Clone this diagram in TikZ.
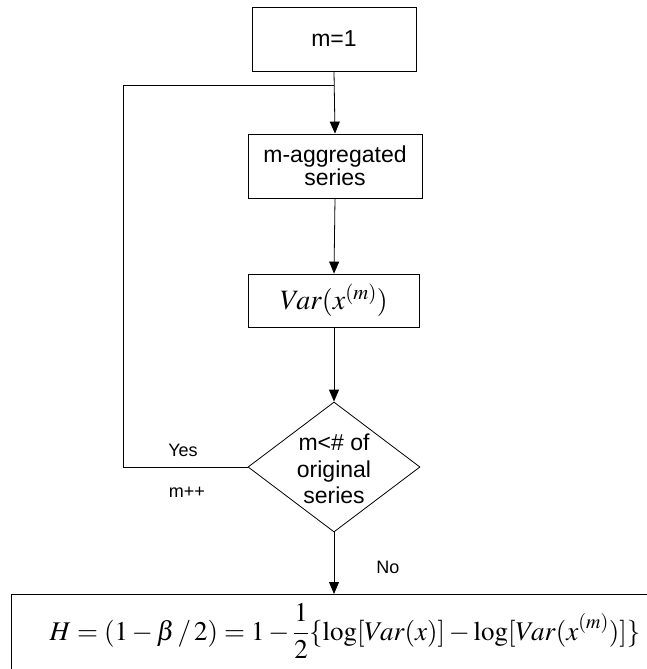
\documentclass[tikz,border=0pt]{standalone}
\usepackage{mathptmx}
\usepackage[no-math]{fontspec}
\setmainfont{Liberation Sans}
\usetikzlibrary{arrows.meta,shapes.geometric}
\tikzset{
  boxnode/.style={draw, line width=0.8pt, rectangle, inner sep=0pt, align=center, font=\fontsize{23}{24}\selectfont},
  decnode/.style={draw, line width=0.8pt, diamond, inner sep=0pt, minimum width=172pt, minimum height=130pt, aspect=1.32},
  flow/.style={line width=0.8pt, -{Triangle[length=12pt,width=10pt]}},
  plain/.style={line width=0.8pt},
  lbl/.style={font=\fontsize{18}{20}\selectfont, inner sep=0pt},
}
\begin{document}
\begin{tikzpicture}[x=1pt,y=-1pt]
\useasboundingbox (0,0) rectangle (647,669);
\clip (0,0) rectangle (647,669);
\node[boxnode, minimum width=164pt, minimum height=64pt] (m1) at (334,39) {m=1};
\node[boxnode, minimum width=174pt, minimum height=64pt] (agg) at (335,166) {m-aggregated\\[-1pt]series};
\node[boxnode, minimum width=171pt, minimum height=53pt, font=\fontsize{28}{30}\selectfont] (var) at (334,300.5) {$Var(x^{(m)})$};
\node[decnode] (dec) at (334,467) {};
\node[font=\fontsize{23}{26.5}\selectfont, align=center, inner sep=0pt] (dect) at (334,469) {m<\# of\\original\\series};
\node[draw, line width=0.8pt, rectangle, minimum width=700pt, minimum height=120pt, anchor=north west, inner sep=0pt] (hbox) at (11,594) {};
\node[anchor=base, inner sep=0pt, font=\fontsize{27}{30}\selectfont] (formula) at (345,640)
  {$\displaystyle H=(1-\beta\,/\,2)=1-\frac{1}{2}\{\log[Var(x)]-\log[Var(x^{(m)})]\}$};
\coordinate (join) at (334,85);
\coordinate (lb) at (123,467);
\coordinate (lt) at (123,85);
\node[lbl] (yes) at (183,450) {Yes};
\node[lbl] (mpp) at (187,492) {m++};
\node[lbl] (no) at (388,567) {No};
\draw[flow] (m1.south) -- (agg.north);
\draw[flow] (agg.south) -- (var.north);
\draw[flow] (var.south) -- (dec.north);
\draw[plain] (dec.west) -- (lb) -- (lt) -- (join);
\draw[flow] (dec.south) -- (dec.south |- hbox.north);
\end{tikzpicture}
\end{document}
